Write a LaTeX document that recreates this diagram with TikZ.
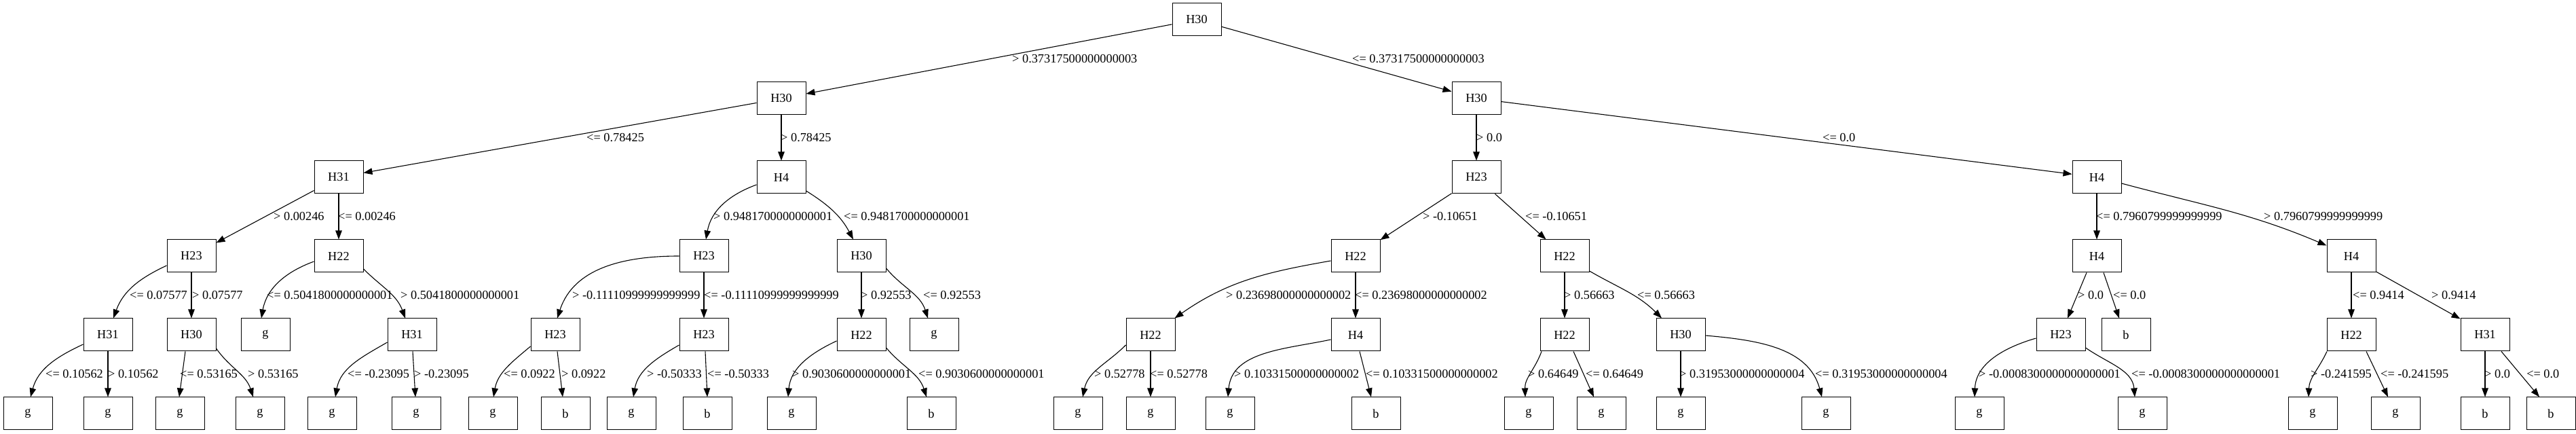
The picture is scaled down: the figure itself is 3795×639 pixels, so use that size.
\documentclass[tikz,border=0pt]{standalone}
\usepackage{fontspec}
\setmainfont{Liberation Serif}
\usetikzlibrary{arrows.meta}
\begin{document}
\begin{tikzpicture}[x=1pt,y=1pt,
  box/.style={draw, line width=1pt, minimum width=72pt, minimum height=48pt, inner sep=0pt, font=\fontsize{18.3}{20}\selectfont},
  lbl/.style={anchor=west, inner sep=0pt, font=\fontsize{18.3}{20}\selectfont},
  conn/.style={draw, line width=1.1pt, -{Triangle[length=13pt,width=9.5pt]}}]
\useasboundingbox (0,0) rectangle (3795,639);
% row 0
\node[box] (r0) at (1763,610) {H30};
% row 1
\node[box] (r1a) at (1151,494) {H30};
\node[box] (r1b) at (2175,494) {H30};
% row 2
\node[box] (r2a) at (499,378) {H31};
\node[box] (r2b) at (1151,378) {H4};
\node[box] (r2c) at (2175,378) {H23};
\node[box] (r2d) at (3089,378) {H4};
% row 3
\node[box] (r3a) at (282,262) {H23};
\node[box] (r3b) at (499,262) {H22};
\node[box] (r3c) at (1037,262) {H23};
\node[box] (r3d) at (1269,262) {H30};
\node[box] (r3e) at (1997,262) {H22};
\node[box] (r3f) at (2305,262) {H22};
\node[box] (r3g) at (3089,262) {H4};
\node[box] (r3h) at (3464,262) {H4};
% row 4
\node[box] (r4a) at (159,146) {H31};
\node[box] (r4b) at (282,146) {H30};
\node[box] (r4c) at (391,146) {g};
\node[box] (r4d) at (607,146) {H31};
\node[box] (r4e) at (818,146) {H23};
\node[box] (r4f) at (1037,146) {H23};
\node[box] (r4g) at (1269,146) {H22};
\node[box] (r4h) at (1376,146) {g};
\node[box] (r4i) at (1695,146) {H22};
\node[box] (r4j) at (1997,146) {H4};
\node[box] (r4k) at (2305,146) {H22};
\node[box] (r4l) at (2476,146) {H30};
\node[box] (r4m) at (3036,146) {H23};
\node[box] (r4n) at (3132,146) {b};
\node[box] (r4o) at (3464,146) {H22};
\node[box] (r4p) at (3661,146) {H31};
% row 5
\node[box] (r5a) at (41,30) {g};
\node[box] (r5b) at (159,30) {g};
\node[box] (r5c) at (265,30) {g};
\node[box] (r5d) at (383,30) {g};
\node[box] (r5e) at (489,30) {g};
\node[box] (r5f) at (613,30) {g};
\node[box] (r5g) at (726,30) {g};
\node[box] (r5h) at (833,30) {b};
\node[box] (r5i) at (930,30) {g};
\node[box] (r5j) at (1042,30) {b};
\node[box] (r5k) at (1166,30) {g};
\node[box] (r5l) at (1372,30) {b};
\node[box] (r5m) at (1588,30) {g};
\node[box] (r5n) at (1695,30) {g};
\node[box] (r5o) at (1812,30) {g};
\node[box] (r5p) at (2027,30) {b};
\node[box] (r5q) at (2252,30) {g};
\node[box] (r5r) at (2359,30) {g};
\node[box] (r5s) at (2476,30) {g};
\node[box] (r5t) at (2690,30) {g};
\node[box] (r5u) at (2916,30) {g};
\node[box] (r5v) at (3156,30) {g};
\node[box] (r5w) at (3407,30) {g};
\node[box] (r5x) at (3529,30) {g};
\node[box] (r5y) at (3661,30) {b};
\node[box] (r5z) at (3758,30) {b};
% edges level 1-2
\draw[conn] (r0) -- (r1a);
\draw[conn] (r0) -- (r1b);
\draw[conn] (r1a) -- (r2a);
\draw[conn] (r1a) -- (r2b);
\draw[conn] (r1b) -- (r2c);
\draw[conn] (r1b) -- (r2d);
% level 3
\draw[conn] (r2a) -- (r3a);
\draw[conn] (r2a) -- (r3b);
\draw[conn] ([yshift=-11pt]r2b.west) to[out=200,in=80] ([xshift=3pt]r3c.north);
\draw[conn] ([yshift=-20pt]r2b.east) to[out=-32,in=118] ([xshift=-12pt]r3d.north);
\draw[conn] (r2c) -- (r3e);
\draw[conn] (r2c) -- (r3f);
\draw[conn] (r2d) -- (r3g);
\draw[conn] ([yshift=-9pt]r2d.east) to[out=-15,in=157] ([yshift=-9pt]r3h.north west);
% level 4
\draw[conn] ([yshift=-14pt]r3a.west) to[out=205,in=70] ([xshift=8pt]r4a.north);
\draw[conn] (r3a) -- (r4b);
\draw[conn] ([yshift=-8pt]r3b.west) to[out=200,in=80] ([xshift=-6pt]r4c.north);
\draw[conn] ([yshift=-19pt]r3b.east) to[out=-45,in=110] ([xshift=-10pt]r4d.north);
\draw[conn] (r3c.west) to[out=180,in=72] ([xshift=3pt]r4e.north);
\draw[conn] (r3c) -- (r4f);
\draw[conn] (r3d) -- (r4g);
\draw[conn] ([yshift=-18pt]r3d.east) to[out=-50,in=108] ([xshift=-9pt]r4h.north);
\draw[conn] ([yshift=-7pt]r3e.west) to[out=190,in=35] ([xshift=-1pt]r4i.north east);
\draw[conn] (r3e) -- (r4j);
\draw[conn] (r3f) -- (r4k);
\draw[conn] ([yshift=-22pt]r3f.east) to[out=-30,in=135] ([xshift=-28pt]r4l.north);
\draw[conn] ([xshift=-15pt]r3g.south) -- ([xshift=10pt]r4m.north);
\draw[conn] ([xshift=10pt]r3g.south) -- ([xshift=-10pt]r4n.north);
\draw[conn] (r3h) -- (r4o);
\draw[conn] ([yshift=-23pt]r3h.east) -- ([yshift=-1pt]r4p.north west);
% level 5
\draw[conn] ([yshift=-14pt]r4a.west) to[out=205,in=75] ([xshift=4pt]r5a.north);
\draw[conn] (r4a) -- (r5b);
\draw[conn] ([xshift=-9pt]r4b.south) -- ([xshift=-1pt]r5c.north);
\draw[conn] ([yshift=-20pt]r4b.east) to[out=-55,in=108] ([xshift=-10pt]r5d.north);
\draw[conn] ([yshift=-11pt]r4d.west) to[out=210,in=80] ([xshift=5pt]r5e.north);
\draw[conn] ([xshift=1pt]r4d.south) -- ([xshift=-1pt]r5f.north);
\draw[conn] ([yshift=-17pt]r4e.west) to[out=220,in=80] ([xshift=1pt]r5g.north);
\draw[conn] ([xshift=3pt]r4e.south) -- ([xshift=-4pt]r5h.north);
\draw[conn] ([yshift=-15pt]r4f.west) to[out=210,in=80] ([xshift=3pt]r5i.north);
\draw[conn] ([xshift=2pt]r4f.south) -- (r5j.north);
\draw[conn] ([yshift=-9pt]r4g.west) to[out=205,in=85] ([xshift=-5pt]r5k.north);
\draw[conn] ([yshift=-19pt]r4g.east) to[out=-50,in=108] ([xshift=-7pt]r5l.north);
\draw[conn] ([yshift=-15pt]r4i.west) to[out=225,in=78] ([xshift=7pt]r5m.north);
\draw[conn] (r4i) -- (r5n);
\draw[conn] ([yshift=-7pt]r4j.west) to[out=192,in=85] ([xshift=-3pt]r5o.north);
\draw[conn] ([xshift=6pt]r4j.south) -- ([xshift=-7pt]r5p.north);
\draw[conn] ([xshift=-34pt]r4k.south) to[out=250,in=92] ([xshift=-5pt]r5q.north);
\draw[conn] ([xshift=13pt]r4k.south) -- ([xshift=-11pt]r5r.north);
\draw[conn] (r4l) -- (r5s);
\draw[conn] ([yshift=-1pt]r4l.east) to[out=-5,in=105] ([xshift=-6pt]r5t.north);
\draw[conn] ([yshift=-5pt]r4m.west) to[out=196,in=88] ([xshift=-7pt]r5u.north);
\draw[conn] ([yshift=-19pt]r4m.east) to[out=-35,in=95] ([xshift=-11pt]r5v.north);
\draw[conn] ([xshift=-36pt]r4o.south) to[out=245,in=88] ([xshift=-6pt]r5w.north);
\draw[conn] ([xshift=22pt]r4o.south) -- ([xshift=-11pt]r5x.north);
\draw[conn] (r4p) -- (r5y);
\draw[conn] ([xshift=24pt]r4p.south) -- ([xshift=-17pt]r5z.north);
% labels row 1
\node[lbl] (t01) at (1491,552) {> 0.37317500000000003};
\node[lbl] (t02) at (1992,552) {<= 0.37317500000000003};
% labels row 2
\node[lbl] (t03) at (864,436) {<= 0.78425};
\node[lbl] (t04) at (1150,436) {> 0.78425};
\node[lbl] (t05) at (2175,436) {> 0.0};
\node[lbl] (t06) at (2685,436) {<= 0.0};
% labels row 3
\node[lbl] (t07) at (403,320) {> 0.00246};
\node[lbl] (t08) at (498,320) {<= 0.00246};
\node[lbl] (t09) at (1051,320) {> 0.9481700000000001};
\node[lbl] (t10) at (1243,320) {<= 0.9481700000000001};
\node[lbl] (t11) at (2096,320) {> -0.10651};
\node[lbl] (t12) at (2247,320) {<= -0.10651};
\node[lbl] (t13) at (3088,320) {<= 0.7960799999999999};
\node[lbl] (t14) at (3335,320) {> 0.7960799999999999};
% labels row 4
\node[lbl] (t15) at (191,204) {<= 0.07577};
\node[lbl] (t16) at (283,204) {> 0.07577};
\node[lbl] (t17) at (393,204) {<= 0.5041800000000001};
\node[lbl] (t18) at (590,204) {> 0.5041800000000001};
\node[lbl] (t19) at (843,204) {> -0.11110999999999999};
\node[lbl] (t20) at (1037,204) {<= -0.11110999999999999};
\node[lbl] (t21) at (1268,204) {> 0.92553};
\node[lbl] (t22) at (1360,204) {<= 0.92553};
\node[lbl] (t23) at (1806,204) {> 0.23698000000000002};
\node[lbl] (t24) at (1996,204) {<= 0.23698000000000002};
\node[lbl] (t25) at (2304,204) {> 0.56663};
\node[lbl] (t26) at (2412,204) {<= 0.56663};
\node[lbl] (t27) at (3061,204) {> 0.0};
\node[lbl] (t28) at (3113,204) {<= 0.0};
\node[lbl] (t29) at (3466,204) {<= 0.9414};
\node[lbl] (t30) at (3582,204) {> 0.9414};
% labels row 5
\node[lbl] (t31) at (67,88) {<= 0.10562};
\node[lbl] (t32) at (159,88) {> 0.10562};
\node[lbl] (t33) at (265,88) {<= 0.53165};
\node[lbl] (t34) at (365,88) {> 0.53165};
\node[lbl] (t35) at (512,88) {<= -0.23095};
\node[lbl] (t36) at (610,88) {> -0.23095};
\node[lbl] (t37) at (742,88) {<= 0.0922};
\node[lbl] (t38) at (827,88) {> 0.0922};
\node[lbl] (t39) at (953,88) {> -0.50333};
\node[lbl] (t40) at (1042,88) {<= -0.50333};
\node[lbl] (t41) at (1167,88) {> 0.9030600000000001};
\node[lbl] (t42) at (1353,88) {<= 0.9030600000000001};
\node[lbl] (t43) at (1612,88) {> 0.52778};
\node[lbl] (t44) at (1694,88) {<= 0.52778};
\node[lbl] (t45) at (1818,88) {> 0.10331500000000002};
\node[lbl] (t46) at (2012,88) {<= 0.10331500000000002};
\node[lbl] (t47) at (2251,88) {> 0.64649};
\node[lbl] (t48) at (2336,88) {<= 0.64649};
\node[lbl] (t49) at (2474,88) {> 0.31953000000000004};
\node[lbl] (t50) at (2674,88) {<= 0.31953000000000004};
\node[lbl] (t51) at (2915,88) {> -0.0008300000000000001};
\node[lbl] (t52) at (3140,88) {<= -0.0008300000000000001};
\node[lbl] (t53) at (3404,88) {> -0.241595};
\node[lbl] (t54) at (3507,88) {<= -0.241595};
\node[lbl] (t55) at (3660,88) {> 0.0};
\node[lbl] (t56) at (3722,88) {<= 0.0};
\end{tikzpicture}
\end{document}
